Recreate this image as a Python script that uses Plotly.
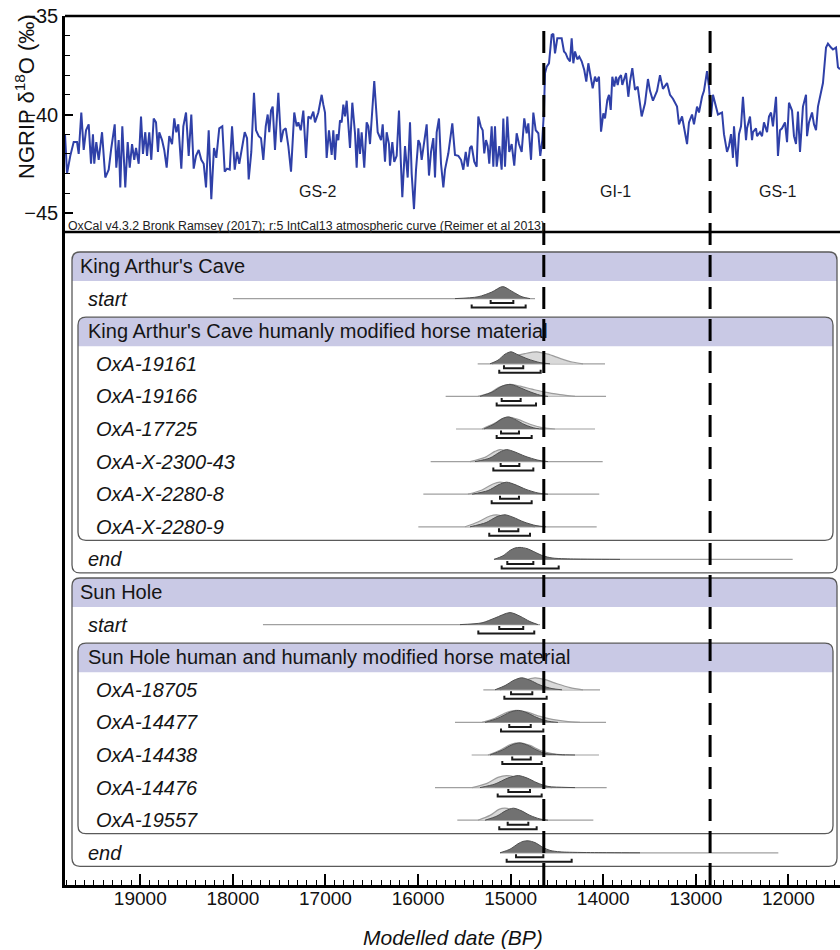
import plotly.graph_objects as go

# ---------------------------------------------------------------
# NGRIP oxygen-isotope record (age in years BP, d18O in permil)
# ---------------------------------------------------------------
ngrip_age = [
    19813, 19791, 19756, 19719, 19683, 19665, 19637, 19611, 19586, 19557,
    19532, 19511, 19497, 19475, 19449, 19413, 19378, 19341, 19313, 19276,
    19259, 19233, 19216, 19194, 19162, 19136, 19114, 19089, 19065, 19046,
    19017, 18992, 18971, 18946, 18927, 18903, 18881, 18855, 18830, 18809,
    18795, 18765, 18741, 18715, 18687, 18657, 18633, 18611, 18589, 18557,
    18535, 18506, 18477, 18449, 18423, 18398, 18369, 18341, 18315, 18290,
    18261, 18233, 18204, 18179, 18147, 18114, 18088, 18063, 18034, 18009,
    17980, 17955, 17931, 17901, 17872, 17847, 17829, 17801, 17772, 17750,
    17721, 17696, 17671, 17645, 17624, 17607, 17588, 17570, 17545, 17509,
    17480, 17455, 17429, 17401, 17372, 17337, 17311, 17293, 17267, 17239,
    17210, 17185, 17159, 17131, 17113, 17077, 17041, 17023, 17005, 16987,
    16962, 16933, 16915, 16897, 16879, 16861, 16843, 16825, 16807, 16789,
    16771, 16753, 16735, 16710, 16681, 16663, 16645, 16627, 16609, 16581,
    16555, 16537, 16519, 16473, 16436, 16400, 16382, 16357, 16339, 16314,
    16303, 16278, 16257, 16231, 16206, 16187, 16170, 16141, 16112, 16087,
    16069, 16044, 16022, 15997, 15979, 15961, 15943, 15907, 15882, 15860,
    15835, 15817, 15799, 15774, 15752, 15727, 15709, 15673, 15630, 15601,
    15565, 15536, 15511, 15485, 15464, 15439, 15421, 15393, 15367, 15349,
    15323, 15302, 15285, 15266, 15248, 15231, 15205, 15187, 15169, 15151,
    15123, 15097, 15079, 15061, 15036, 15015, 14989, 14961, 14935, 14910,
    14881, 14853, 14827, 14809, 14780, 14755, 14729, 14701, 14680, 14658,
    14640, 14629, 14611, 14586, 14557, 14539, 14521, 14496, 14467, 14449,
    14424, 14405, 14384, 14359, 14341, 14323, 14305, 14280, 14259, 14233,
    14205, 14183, 14161, 14135, 14114, 14089, 14071, 14046, 14024, 13999,
    13981, 13956, 13938, 13919, 13902, 13881, 13862, 13844, 13830, 13808,
    13794, 13754, 13729, 13711, 13686, 13657, 13628, 13611, 13585, 13549,
    13517, 13495, 13463, 13419, 13387, 13355, 13311, 13279, 13247, 13203,
    13182, 13149, 13128, 13095, 13074, 13041, 13020, 12987, 12966, 12933,
    12912, 12879, 12858, 12836, 12815, 12782, 12761, 12717, 12696, 12663,
    12642, 12620, 12599, 12588, 12555, 12534, 12512, 12491, 12458, 12447,
    12415, 12393, 12383, 12350, 12339, 12307, 12285, 12264, 12231, 12210,
    12188, 12167, 12134, 12113, 12091, 12069, 12037, 12015, 11994, 11961,
    11940, 11918, 11897, 11875, 11853, 11843, 11810, 11799, 11778, 11745,
    11724, 11702, 11681, 11648, 11627, 11594, 11573, 11540, 11519, 11486,
    11465, 11443,
]
ngrip_d18o = [
    -41.0, -43.0, -42.1, -41.4, -41.4, -42.0, -39.9, -41.8, -40.8, -40.5,
    -42.5, -41.0, -42.5, -41.4, -42.3, -40.9, -43.2, -42.8, -41.7, -40.5,
    -42.7, -41.3, -43.7, -40.6, -43.7, -41.4, -42.7, -41.5, -42.3, -41.7,
    -42.5, -40.1, -42.0, -40.9, -42.1, -40.9, -42.3, -40.2, -40.4, -41.9,
    -40.9, -41.3, -41.8, -42.7, -41.1, -41.5, -40.2, -40.9, -40.5, -42.75,
    -40.6, -39.9, -42.1, -40.0, -42.75, -42.1, -41.8, -42.3, -42.5, -43.7,
    -40.8, -44.3, -41.7, -42.2, -40.7, -40.6, -42.9, -42.75, -42.8, -40.6,
    -42.8, -41.9, -42.5, -41.7, -40.9, -41.2, -43.3, -41.9, -38.9, -40.8,
    -41.1, -41.2, -42.3, -40.6, -40.0, -40.9, -39.8, -39.6, -41.8, -38.9,
    -41.4, -40.8, -40.7, -41.6, -42.9, -39.9, -40.6, -40.4, -40.8, -39.8,
    -42.2, -40.1, -40.2, -39.85, -40.4, -39.9, -39.0, -39.5, -39.9, -42.2,
    -40.8, -42.05, -40.8, -42.3, -41.0, -41.3, -40.3, -40.4, -39.5, -40.1,
    -39.3, -40.5, -41.7, -39.4, -40.95, -42.7, -40.7, -42.0, -40.9, -42.7,
    -40.4, -40.6, -41.5, -38.3, -40.9, -41.3, -40.5, -42.4, -40.9, -41.5,
    -42.6, -41.4, -42.4, -42.1, -39.8, -42.3, -44.2, -41.6, -43.2, -40.4,
    -43.0, -44.8, -42.8, -41.3, -41.5, -42.3, -41.6, -40.5, -43.1, -41.9,
    -41.2, -43.2, -40.9, -40.2, -42.5, -43.7, -42.8, -41.97, -40.45, -42.05,
    -42.1, -42.3, -42.8, -41.9, -42.65, -41.7, -41.6, -42.4, -42.65, -40.1,
    -40.6, -40.8, -41.97, -41.3, -41.6, -42.5, -40.6, -42.65, -40.6, -42.65,
    -41.6, -42.8, -40.2, -42.65, -40.1, -41.9, -41.5, -42.6, -40.95, -41.5,
    -41.9, -40.2, -40.95, -40.45, -42.3, -39.9, -40.8, -40.95, -42.1, -41.3,
    -39.8, -37.9, -37.57, -37.4, -35.96, -35.9, -36.9, -36.13, -36.13, -36.13,
    -36.8, -36.9, -37.15, -37.3, -36.13, -37.4, -36.8, -37.2, -37.06, -37.3,
    -37.74, -38.33, -37.4, -38.0, -38.67, -38.08, -38.33, -38.08, -40.87, -39.94,
    -40.2, -39.26, -39.0, -39.77, -38.08, -38.58, -38.08, -38.5, -38.16, -38.0,
    -38.5, -37.9, -39.1, -38.33, -37.65, -38.75, -38.58, -39.18, -40.1, -39.43,
    -38.2, -38.8, -39.3, -38.8, -38.0, -38.7, -38.4, -39.0, -39.2, -39.6,
    -40.5, -40.1, -40.6, -41.5, -40.4, -40.0, -40.5, -39.6, -39.9, -39.1,
    -38.8, -37.8, -38.6, -40.1, -39.0, -39.6, -40.0, -39.9, -41.0, -41.9,
    -41.6, -41.0, -42.2, -40.6, -42.65, -41.0, -40.6, -39.1, -41.3, -40.7,
    -40.1, -41.3, -40.9, -40.7, -41.1, -40.9, -41.1, -40.4, -40.9, -40.1,
    -39.9, -40.6, -39.1, -42.1, -40.8, -40.7, -40.4, -41.4, -39.4, -39.8,
    -41.1, -41.5, -39.85, -41.9, -40.3, -39.6, -39.0, -41.1, -40.4, -39.9,
    -40.5, -40.8, -39.6, -38.8, -38.4, -36.6, -36.4, -36.6, -36.7, -36.6,
    -37.6, -37.7,
]

# Greenland event boundaries (BP) and stage names
event_boundaries = [14642, 12846]
stage_names = ["GS-2", "GI-1", "GS-1"]
stage_name_age = [17081, 13873, 12123]

# ---------------------------------------------------------------
# OxCal model: sites, phases and dated samples
# ---------------------------------------------------------------
sites = ["King Arthur's Cave", "Sun Hole"]
phases = ["King Arthur's Cave humanly modified horse material",
          "Sun Hole human and humanly modified horse material"]
site_samples = [
    ["OxA-19161", "OxA-19166", "OxA-17725", "OxA-X-2300-43", "OxA-X-2280-8", "OxA-X-2280-9"],
    ["OxA-18705", "OxA-14477", "OxA-14438", "OxA-14476", "OxA-19557"],
]

# One entry per plotted row: start, samples..., end for each site
dist_span = [
    [17999, 14737], [15356, 13981], [15702, 13970], [15590, 14089], [15864, 14006],
    [15943, 14043], [15997, 14071], [15180, 11954],
    [17675, 14683], [15295, 14035], [15601, 13970], [15421, 14046], [15817, 13963],
    [15576, 14107], [15115, 12109],
]
range_68 = [
    [15216, 14971], [15072, 14864], [15097, 14892], [15104, 14910], [15108, 14906],
    [15115, 14910], [15126, 14917], [15036, 14755],
    [15123, 14864], [14996, 14766], [15015, 14783], [14983, 14783], [15025, 14791],
    [15032, 14809], [14942, 14647],
]
range_95 = [
    [15421, 14838], [15123, 14676], [15151, 14726], [15151, 14773], [15187, 14755],
    [15205, 14773], [15231, 14791], [15097, 14481],
    [15349, 14745], [15068, 14611], [15104, 14647], [15090, 14665], [15140, 14665],
    [15123, 14719], [15043, 14341],
]
# Modelled (posterior) probability outlines: dates and relative heights
modelled_age = [
    [15601, 15353, 15202, 15086, 14985, 14877, 14791],
    [15223, 15137, 15061, 14996, 14921, 14813, 14683, 14575],
    [15331, 15202, 15093, 15007, 14921, 14813, 14683, 14597],
    [15288, 15180, 15093, 15025, 14953, 14845, 14726, 14629],
    [15385, 15223, 15115, 15043, 14953, 14845, 14705, 14597],
    [15417, 15245, 15126, 15043, 14953, 14834, 14705, 14597],
    [15439, 15266, 15147, 15061, 14975, 14856, 14726, 14619],
    [15180, 15083, 15007, 14953, 14899, 14823, 14737, 14651, 14553, 14413, 14143, 13819],
    [15547, 15309, 15169, 15007, 14899, 14791, 14705],
    [15169, 15061, 14964, 14881, 14791, 14683, 14553, 14445],
    [15277, 15137, 15007, 14917, 14823, 14715, 14597, 14489],
    [15223, 15093, 14985, 14899, 14813, 14715, 14619, 14467, 14305],
    [15331, 15169, 15029, 14917, 14823, 14715, 14597, 14413, 14305],
    [15277, 15147, 15050, 14971, 14888, 14791, 14683, 14597],
    [15115, 15007, 14921, 14867, 14809, 14737, 14651, 14575, 14467, 14251, 13927, 13603],
]
modelled_height = [
    [0, 0.15, 0.55, 1, 0.6, 0.15, 0],
    [0, 0.3, 0.8, 1, 0.75, 0.4, 0.1, 0],
    [0, 0.35, 0.85, 1, 0.8, 0.45, 0.1, 0],
    [0, 0.4, 0.85, 1, 0.8, 0.35, 0.05, 0],
    [0, 0.3, 0.8, 1, 0.8, 0.45, 0.12, 0],
    [0, 0.3, 0.8, 1, 0.8, 0.4, 0.1, 0],
    [0, 0.35, 0.85, 1, 0.8, 0.4, 0.1, 0],
    [0, 0.3, 0.75, 0.95, 1, 0.9, 0.6, 0.3, 0.12, 0.05, 0.015, 0],
    [0, 0.15, 0.55, 1, 0.7, 0.25, 0],
    [0, 0.35, 0.8, 1, 0.8, 0.4, 0.1, 0],
    [0, 0.35, 0.85, 1, 0.8, 0.4, 0.1, 0],
    [0, 0.4, 0.85, 1, 0.8, 0.4, 0.12, 0.03, 0],
    [0, 0.3, 0.8, 1, 0.8, 0.4, 0.1, 0.02, 0],
    [0, 0.35, 0.8, 1, 0.8, 0.4, 0.1, 0],
    [0, 0.3, 0.75, 0.95, 1, 0.85, 0.45, 0.2, 0.08, 0.03, 0.01, 0],
]
# Unmodelled (calibrated likelihood) outlines; boundaries have none
likelihood_age = [
    None,
    [15202, 15061, 14953, 14845, 14719, 14597, 14467, 14338, 14219],
    [15353, 15223, 15115, 15007, 14899, 14769, 14629, 14467, 14305],
    [15309, 15180, 15083, 15018, 14921, 14791, 14661, 14521],
    [15439, 15277, 15169, 15115, 15029, 14899, 14769, 14629],
    [15461, 15309, 15191, 15115, 15029, 14921, 14791, 14661],
    [15493, 15353, 15223, 15151, 15072, 14964, 14845, 14737],
    None,
    None,
    [15115, 14953, 14845, 14737, 14629, 14499, 14359, 14219],
    [15309, 15169, 15039, 14942, 14823, 14683, 14553, 14402, 14251],
    [15245, 15115, 14996, 14881, 14791, 14683, 14553, 14413],
    [15417, 15255, 15137, 15043, 14942, 14813, 14683, 14553],
    [15353, 15223, 15126, 15061, 14975, 14867, 14759, 14661],
    None,
]
likelihood_height = [
    None,
    [0, 0.3, 0.65, 0.85, 1, 0.8, 0.45, 0.15, 0],
    [0, 0.3, 0.8, 1, 0.85, 0.6, 0.35, 0.15, 0],
    [0, 0.45, 0.9, 1, 0.8, 0.4, 0.12, 0],
    [0, 0.35, 0.85, 1, 0.85, 0.45, 0.12, 0],
    [0, 0.35, 0.85, 1, 0.85, 0.45, 0.12, 0],
    [0, 0.4, 0.9, 1, 0.85, 0.45, 0.12, 0],
    None,
    None,
    [0, 0.35, 0.8, 1, 0.85, 0.5, 0.18, 0],
    [0, 0.35, 0.85, 1, 0.85, 0.5, 0.25, 0.08, 0],
    [0, 0.4, 0.9, 1, 0.8, 0.4, 0.12, 0],
    [0, 0.35, 0.85, 1, 0.85, 0.45, 0.12, 0],
    [0, 0.4, 0.9, 1, 0.85, 0.45, 0.12, 0],
    None,
]

# ---------------------------------------------------------------
# Page geometry
# ---------------------------------------------------------------
W, H = 840, 950
M_L, M_R, M_T, M_B = 65, 0, 16, 65
plot_w = W - M_L - M_R
plot_h = H - M_T - M_B
split_px = 232                       # border between isotope panel and model panel
split = (H - M_B - split_px) / plot_h
x_range = [19813, 11443]

ROW_PX = 32.6                        # row pitch in the model panel
first_row_px = 266
y2_top = -(first_row_px - split_px) / ROW_PX
y2_bot = (H - M_B - first_row_px) / ROW_PX
PEAK = 12 / ROW_PX                   # height of a full probability curve
OFF68, OFF95, TICK = 4.5 / ROW_PX, 9 / ROW_PX, 3 / ROW_PX
BOX_TOP, BAND_BOT, BOX_BOT = 14 / ROW_PX, 15 / ROW_PX, 13.5 / ROW_PX


def px_x(px):
    return (px - M_L) / plot_w


FONT = "Liberation Sans, Arial, sans-serif"
BAND = "#c9c9e5"
EDGE = "#5a5a5a"

# Lay out rows: site header, start, phase header, samples, end
headers, labels, boxes, row_slots = [], [], [], []
slot = 0
for s, site in enumerate(sites):
    outer_top = slot
    headers.append((slot, site, px_x(78)))
    slot += 1
    labels.append((slot, "start", px_x(86)))
    row_slots.append(slot)
    slot += 1
    inner_top = slot
    headers.append((slot, phases[s], px_x(86)))
    slot += 1
    for name in site_samples[s]:
        labels.append((slot, name, px_x(94)))
        row_slots.append(slot)
        slot += 1
    inner_bot = slot - 1
    labels.append((slot, "end", px_x(86)))
    row_slots.append(slot)
    boxes.append((px_x(72), px_x(837), outer_top, slot))
    boxes.append((px_x(78), px_x(833), inner_top, inner_bot))
    slot += 1

fig = go.Figure()

# Isotope curve
fig.add_trace(go.Scatter(
    x=ngrip_age, y=ngrip_d18o, mode="lines",
    line=dict(color="#2f40a8", width=2), xaxis="x", yaxis="y",
    hoverinfo="skip", showlegend=False,
))

# Probability distributions
for i, yc in enumerate(row_slots):
    fig.add_trace(go.Scatter(
        x=dist_span[i], y=[yc, yc], mode="lines",
        line=dict(color="#a0a0a0", width=1.2), xaxis="x", yaxis="y2",
        hoverinfo="skip", showlegend=False,
    ))
    if likelihood_age[i] is not None:
        fig.add_trace(go.Scatter(
            x=likelihood_age[i], y=[yc - h * PEAK for h in likelihood_height[i]],
            mode="lines", fill="toself", fillcolor="#d9d9d9",
            line=dict(color="#9c9c9c", width=1.2, shape="spline", smoothing=0.8),
            xaxis="x", yaxis="y2", hoverinfo="skip", showlegend=False,
        ))
    fig.add_trace(go.Scatter(
        x=modelled_age[i], y=[yc - h * PEAK for h in modelled_height[i]],
        mode="lines", fill="toself", fillcolor="#717171",
        line=dict(color="#4f4f4f", width=1, shape="spline", smoothing=0.8),
        xaxis="x", yaxis="y2", hoverinfo="skip", showlegend=False,
    ))
    a68, b68 = range_68[i]
    a95, b95 = range_95[i]
    y68, y95 = yc + OFF68, yc + OFF95
    fig.add_trace(go.Scatter(
        x=[a68, a68, b68, b68, None, a95, a95, b95, b95],
        y=[y68 - TICK, y68, y68, y68 - TICK, None, y95 - TICK, y95, y95, y95 - TICK],
        mode="lines", line=dict(color="#1a1a1a", width=2),
        xaxis="x", yaxis="y2", hoverinfo="skip", showlegend=False,
    ))

shapes = []
rx, ry = 8 / plot_w, 8 / ROW_PX
for x0, x1, top_slot, bot_slot in boxes:
    yt = top_slot - BOX_TOP
    yh = top_slot + BAND_BOT
    yb = bot_slot + BOX_BOT
    band = (f"M {x0},{yh} L {x0},{yt + ry} Q {x0},{yt} {x0 + rx},{yt} "
            f"L {x1 - rx},{yt} Q {x1},{yt} {x1},{yt + ry} L {x1},{yh} Z")
    outline = (f"M {x0 + rx},{yt} L {x1 - rx},{yt} Q {x1},{yt} {x1},{yt + ry} "
               f"L {x1},{yb - ry} Q {x1},{yb} {x1 - rx},{yb} L {x0 + rx},{yb} "
               f"Q {x0},{yb} {x0},{yb - ry} L {x0},{yt + ry} Q {x0},{yt} {x0 + rx},{yt} Z")
    shapes.append(dict(type="path", path=band, xref="paper", yref="y2",
                       fillcolor=BAND, line=dict(width=0), layer="below"))
    shapes.append(dict(type="path", path=outline, xref="paper", yref="y2",
                       line=dict(color=EDGE, width=1.3), layer="below"))

# Frame lines: top of isotope panel and the panel divider
for yy in (1.0, split):
    shapes.append(dict(type="line", xref="paper", yref="paper", x0=0, x1=1,
                       y0=yy, y1=yy, line=dict(color="black", width=2.5), layer="above"))

# Event boundaries
for age in event_boundaries:
    shapes.append(dict(type="line", xref="x", yref="paper", x0=age, x1=age,
                       y0=0, y1=(H - M_B - 22) / plot_h,
                       line=dict(color="black", width=3, dash="22px,10px"), layer="above"))

annotations = []
for yc, text, xp in headers:
    annotations.append(dict(x=xp, y=yc, xref="paper", yref="y2", text=text,
                            showarrow=False, xanchor="left", yanchor="middle",
                            font=dict(family=FONT, size=20, color="#151515")))
for yc, text, xp in labels:
    annotations.append(dict(x=xp, y=yc, xref="paper", yref="y2", text=f"<i>{text}</i>",
                            showarrow=False, xanchor="left", yanchor="middle",
                            font=dict(family=FONT, size=20, color="#151515")))
for name, age in zip(stage_names, stage_name_age):
    annotations.append(dict(x=age, y=-43.93, xref="x", yref="y", text=name,
                            showarrow=False, xanchor="center", yanchor="middle",
                            font=dict(family=FONT, size=16, color="#1a1a1a")))
annotations.append(dict(
    x=px_x(66), y=-45.66, xref="paper", yref="y",
    text="OxCal v4.3.2 Bronk Ramsey (2017); r:5 IntCal13 atmospheric curve (Reimer et al 2013)",
    showarrow=False, xanchor="left", yanchor="middle",
    font=dict(family=FONT, size=12.3, color="#222222")))
annotations.append(dict(
    x=(25 - M_L) / plot_w, y=(H - M_B - 97) / plot_h, xref="paper", yref="paper",
    text="NGRIP δ<sup>18</sup>O (‰)", textangle=-90, showarrow=False,
    xanchor="center", yanchor="middle",
    font=dict(family=FONT, size=22, color="#111111")))
annotations.append(dict(
    x=0.5, y=-(937 - (H - M_B)) / plot_h, xref="paper", yref="paper",
    text="<i>Modelled date (BP)</i>", showarrow=False,
    xanchor="center", yanchor="middle",
    font=dict(family=FONT, size=21, color="#111111")))

fig.update_layout(
    width=W, height=H,
    margin=dict(l=M_L, r=M_R, t=M_T, b=M_B),
    paper_bgcolor="white", plot_bgcolor="white",
    showlegend=False,
    shapes=shapes, annotations=annotations,
    xaxis=dict(
        domain=[0, 1], range=x_range, anchor="y2",
        tick0=0, dtick=1000, tickformat="d", ticks="inside", ticklen=11, tickwidth=1.5,
        tickcolor="black", showline=True, linecolor="black", linewidth=2.5,
        showgrid=False, zeroline=False, ticklabelstandoff=-6,
        tickfont=dict(family=FONT, size=19, color="#111111"),
        minor=dict(dtick=100, ticks="inside", ticklen=5, tickwidth=1, tickcolor="black"),
    ),
    yaxis=dict(
        domain=[split, 1], range=[-35 - (split_px - M_T) / 19.7, -35], anchor="x",
        tickvals=[-35, -40, -45], ticks="inside", ticklen=8, tickwidth=1.5,
        tickcolor="black", showline=True, linecolor="black", linewidth=2.5,
        showgrid=False, zeroline=False,
        tickfont=dict(family=FONT, size=20, color="#111111"),
        minor=dict(dtick=1, ticks="inside", ticklen=5, tickwidth=1, tickcolor="black"),
    ),
    yaxis2=dict(
        domain=[0, split], range=[y2_bot, y2_top], anchor="x",
        showline=True, linecolor="black", linewidth=2.5,
        showticklabels=False, ticks="", showgrid=False, zeroline=False,
    ),
)

fig.write_html("out.html")
